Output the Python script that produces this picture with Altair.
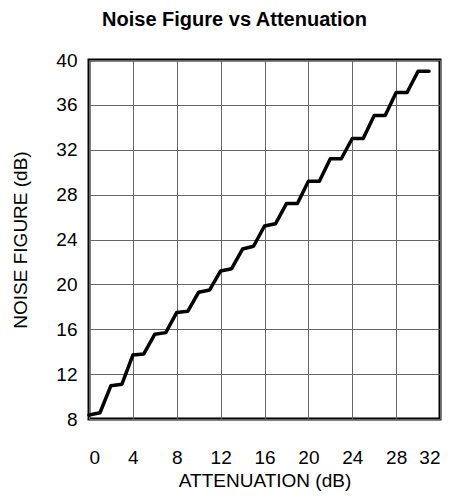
import altair as alt
import pandas as pd

attenuation = list(range(0, 32))
noise_figure = [8.36, 8.56, 10.97, 11.1, 13.7, 13.8, 15.56, 15.7, 17.5, 17.6,
                19.3, 19.5, 21.2, 21.4, 23.15, 23.4, 25.2, 25.4, 27.2, 27.2,
                29.2, 29.2, 31.2, 31.2, 33.0, 33.0, 35.05, 35.05, 37.1, 37.1,
                39.0, 39.0]
x_ticks = [0, 4, 8, 12, 16, 20, 24, 28, 32]
y_ticks = [8, 12, 16, 20, 24, 28, 32, 36, 40]

df = pd.DataFrame({"att": attenuation, "nf": noise_figure})

FONT = "Liberation Sans"

chart = alt.Chart(df).mark_line(
    color="black", strokeWidth=3.5, strokeJoin="round", strokeCap="round"
).encode(
    x=alt.X("att:Q", scale=alt.Scale(domain=[0, 32], nice=False, zero=False),
            axis=alt.Axis(values=x_ticks, title="ATTENUATION (dB)", grid=True,
                          domain=False, ticks=False, labelPadding=29,
                          labelFontSize=19, titleFontSize=19, titlePadding=4,
                          labelFont=FONT, titleFont=FONT, titleFontWeight="normal",
                          labelColor="black", titleColor="black",
                          gridColor="#666666", gridWidth=1, gridOpacity=1)),
    y=alt.Y("nf:Q", scale=alt.Scale(domain=[8, 40], nice=False, zero=False),
            axis=alt.Axis(values=y_ticks, title="NOISE FIGURE (dB)", grid=True,
                          domain=False, ticks=False, labelPadding=12,
                          labelFontSize=19, titleFontSize=19,
                          labelFont=FONT, titleFont=FONT, titleFontWeight="normal",
                          labelColor="black", titleColor="black",
                          titleX=-69, titleY=179.5, titleBaseline="middle",
                          gridColor="#666666", gridWidth=1, gridOpacity=1)),
).properties(
    width=351, height=359,
    title=alt.TitleParams("Noise Figure vs Attenuation", fontSize=20, font=FONT,
                          fontWeight="bold", color="black", anchor="middle",
                          dx=-30, offset=21),
    autosize=alt.AutoSizeParams(type="none"),
    padding={"left": 81, "top": 52, "right": 4, "bottom": 76},
).configure_view(
    stroke="black", strokeWidth=3
)

chart.save("out.html", embed_options={"renderer": "svg", "actions": False})
